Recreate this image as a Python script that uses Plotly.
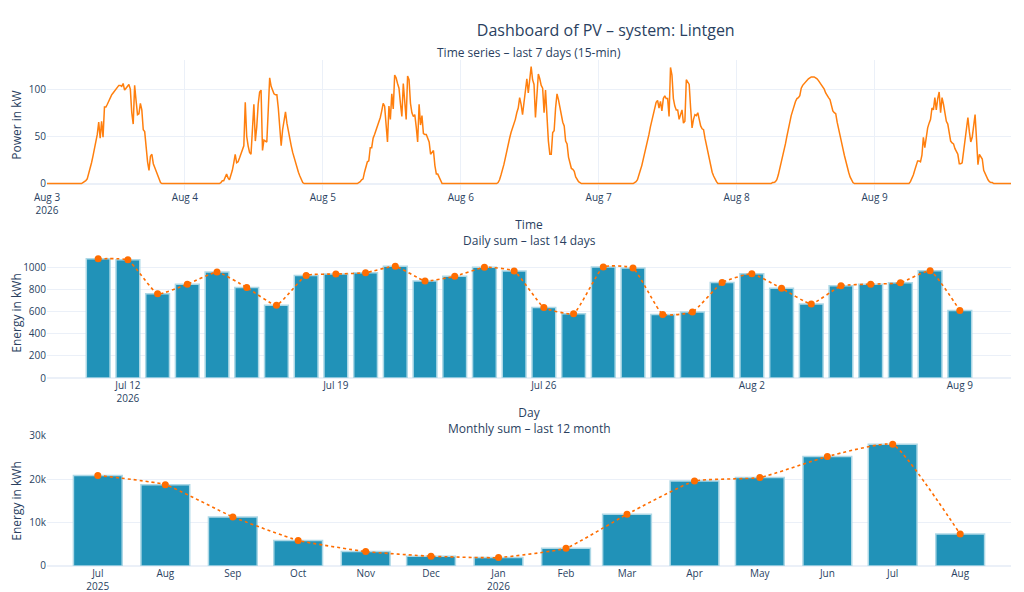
import pandas as pd
import plotly.graph_objects as go
from plotly.subplots import make_subplots

# 15-min power in kW, from 06:00 on each day (night values are 0)
first_slot = 24
aug3 = [0, 1, 2, 3, 5, 10, 16, 22, 29, 36, 44, 52, 65, 48, 66, 49, 81, 81, 84, 88, 91, 94, 96, 98, 100,
        102, 104, 104, 103, 106, 99, 101, 103, 105, 100, 75, 63, 104, 88, 73, 74, 85, 78, 57, 55, 36, 23,
        14, 29, 31, 21, 17, 13, 7, 3, 1, 0]
aug4 = [0, 1, 3, 3, 6, 10, 6, 4, 9, 14, 22, 31, 22, 23, 27, 32, 37, 40, 86, 50, 40, 33, 31, 60, 84, 45,
        60, 84, 97, 99, 35, 46, 45, 44, 78, 112, 103, 99, 95, 94, 94, 80, 55, 40, 57, 66, 76, 64, 55, 46,
        40, 33, 27, 22, 16, 12, 8, 4, 1, 0]
aug5 = [0, 1, 2, 4, 5, 12, 19, 23, 24, 38, 38, 48, 52, 56, 60, 66, 70, 77, 85, 82, 60, 44, 82, 68, 95, 79,
        115, 112, 106, 101, 85, 71, 106, 90, 68, 114, 110, 85, 75, 71, 73, 60, 44, 84, 62, 72, 53, 52, 52,
        48, 44, 31, 33, 35, 19, 10, 10, 6, 2, 0]
aug6 = [0, 0, 1, 4, 9, 14, 20, 27, 35, 42, 48, 54, 58, 63, 68, 75, 80, 91, 84, 73, 88, 100, 111, 96, 115,
        124, 110, 105, 70, 95, 116, 111, 104, 101, 75, 99, 66, 45, 31, 31, 54, 56, 80, 95, 89, 80, 70, 65,
        61, 45, 42, 28, 22, 16, 15, 13, 7, 4, 2, 1, 0]
aug7 = [0, 1, 2, 4, 8, 14, 19, 25, 31, 38, 45, 52, 60, 67, 73, 80, 86, 88, 80, 87, 77, 90, 93, 90, 90, 71,
        123, 115, 90, 82, 78, 78, 68, 73, 78, 64, 66, 110, 108, 105, 80, 59, 68, 73, 72, 75, 68, 61, 58, 57,
        48, 40, 32, 24, 18, 12, 8, 4, 2, 0]
aug8 = [0, 1, 1, 2, 4, 9, 15, 21, 28, 35, 42, 50, 58, 65, 72, 77, 83, 87, 90, 91, 93, 101, 104, 106, 108,
        110, 111, 112, 113, 113, 113, 112, 111, 109, 107, 105, 102, 100, 96, 93, 91, 89, 84, 77, 75, 74, 65,
        57, 51, 44, 37, 30, 23, 16, 12, 7, 3, 1, 0, 0]
aug9 = [0, 2, 5, 9, 14, 20, 24, 24, 23, 30, 49, 38, 49, 59, 64, 68, 80, 78, 91, 78, 90, 97, 75, 91, 84, 75,
        66, 63, 55, 45, 43, 42, 37, 34, 31, 21, 21, 22, 33, 44, 57, 70, 55, 44, 49, 60, 73, 47, 20, 31, 28,
        26, 14, 10, 6, 4, 2, 1, 1, 0]

# daily energy in kWh, Jul 11 - Aug 9
daily_kwh = [1079, 1070, 762, 850, 959, 820, 659, 929, 941, 953, 1012, 879, 921, 1003, 970,
             638, 582, 1006, 997, 576, 597, 865, 944, 812, 671, 835, 850, 862, 971, 612]

# monthly energy in kWh, Jul 2025 - Aug 2026
monthly_kwh = [20900, 18760, 11320, 5890, 3330, 2250, 1940, 4110, 11940, 19610, 20390, 25270, 28060, 7360]
month_labels = ['Jul<br>2025', 'Aug', 'Sep', 'Oct', 'Nov', 'Dec', 'Jan<br>2026',
                'Feb', 'Mar', 'Apr', 'May', 'Jun', 'Jul', 'Aug']

power = []
for day in [aug3, aug4, aug5, aug6, aug7, aug8, aug9]:
    power += [0] * first_slot + day + [0] * (96 - first_slot - len(day))
times = pd.date_range('2026-08-03 00:00', periods=len(power), freq='15min')
days = pd.date_range('2026-07-11', periods=len(daily_kwh), freq='D')
months = pd.date_range('2025-07-01', periods=len(monthly_kwh), freq='MS')

bar_color = '#2192b8'
dot_color = '#ff6d00'

fig = make_subplots(rows=3, cols=1, vertical_spacing=0.1145,
                    subplot_titles=('Time series – last 7 days (15-min)',
                                    'Daily sum – last 14 days',
                                    'Monthly sum – last 12 month'))

fig.add_trace(go.Scatter(x=times, y=power, mode='lines',
                         line=dict(color='#ff7f0e', width=1.5)), row=1, col=1)

fig.add_trace(go.Bar(x=days, y=daily_kwh,
                     marker=dict(color=bar_color, line=dict(color='lightblue', width=1.5))), row=2, col=1)
fig.add_trace(go.Scatter(x=days, y=daily_kwh, mode='lines+markers',
                         line=dict(color=dot_color, width=1.6, dash='dot', shape='spline', smoothing=0.4),
                         marker=dict(color=dot_color, size=7)), row=2, col=1)

fig.add_trace(go.Bar(x=months, y=monthly_kwh,
                     marker=dict(color=bar_color, line=dict(color='lightblue', width=1.5))), row=3, col=1)
fig.add_trace(go.Scatter(x=months, y=monthly_kwh, mode='lines+markers',
                         line=dict(color=dot_color, width=1.6, dash='dot', shape='spline', smoothing=0.4),
                         marker=dict(color=dot_color, size=7)), row=3, col=1)

fig.update_xaxes(automargin=False)
fig.update_yaxes(automargin=False)
fig.update_xaxes(title_text='Time', title_standoff=4, row=1, col=1)
fig.update_xaxes(title_text='Day', title_standoff=4,
                 range=['2026-07-09 06:40', '2026-08-10 17:20'], row=2, col=1)
fig.update_xaxes(range=['2025-06-07 16:00', '2026-08-24 08:00'],
                 tickvals=months, ticktext=month_labels, row=3, col=1)
fig.update_yaxes(title_text='Power in kW', row=1, col=1)
fig.update_yaxes(title_text='Energy in kWh', dtick=200, row=2, col=1)
fig.update_yaxes(title_text='Energy in kWh', range=[0, 30000], row=3, col=1)

fig.update_annotations(font_size=12, yshift=-3)
fig.update_layout(
    template='plotly_white',
    title=dict(text='Dashboard of PV – system: Lintgen', x=0.593, xanchor='center',
               y=0.962, yanchor='middle', font=dict(size=16)),
    font=dict(family='Open Sans', size=10),
    showlegend=False,
    width=1008, height=592,
    margin=dict(l=39, r=5, t=52, b=34),
)
fig.write_html('out.html')
